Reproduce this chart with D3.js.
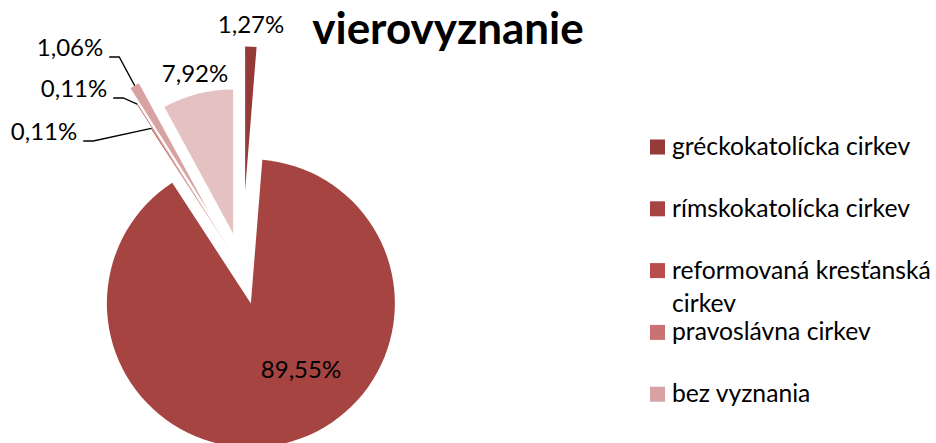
<!DOCTYPE html>
<html>
<head>
<meta charset="utf-8">
<script src="https://cdn.jsdelivr.net/npm/d3@7"></script>
<style>
  body { margin: 0; background: #fff; }
  text { font-family: Lato, "Open Sans", sans-serif; fill: #000; }
</style>
</head>
<body>
<div id="vis"></div>
<script>
// data
const categories = ['gréckokatolícka cirkev', 'rímskokatolícka cirkev', 'reformovaná kresťanská cirkev',
  'pravoslávna cirkev', 'bez vyznania', 'nezistené'];
const values = [1.27, 89.55, 0.11, 0.11, 1.06, 7.92];
const valueLabels = ['1,27%', '89,55%', '0,11%', '0,11%', '1,06%', '7,92%'];

// styling / layout
const colors = ['#943B3A', '#A54441', '#B94D4B', '#C87371', '#D8A2A2', '#E4C2C2'];
const explode = [78, 36, 23, 51, 68, 36];     // px each slice is pulled out
const labelPos = [[251, 33], [301, 378], [44, 140], [74, 97], [70, 56], [195, 82]];
const leader = [false, false, true, true, true, false];

const width = 936, height = 443;
const cx = 242, cy = 268.5, radius = 144;

const svg = d3.select('#vis')
  .append('svg')
  .attr('width', width)
  .attr('height', height);

const pie = d3.pie().sort(null).value(d => d);
const arc = d3.arc().innerRadius(0).outerRadius(radius);

const slices = pie(values).map((d, i) => {
  const mid = (d.startAngle + d.endAngle) / 2;
  return {
    ...d, i, mid,
    dx: explode[i] * Math.sin(mid),
    dy: -explode[i] * Math.cos(mid)
  };
});

const g = svg.append('g')
  .attr('transform', `translate(${cx},${cy})`);

g.selectAll('.slice')
  .data(slices)
  .join('path')
  .attr('class', 'slice')
  .attr('transform', d => `translate(${d.dx},${d.dy})`)
  .attr('d', arc)
  .style('fill', (d, i) => colors[i]);

// labels
const lbl = svg.selectAll('.lbl')
  .data(slices)
  .join('text')
  .attr('class', 'lbl')
  .attr('x', d => labelPos[d.i][0])
  .attr('y', d => labelPos[d.i][1])
  .attr('text-anchor', 'middle')
  .style('font-size', '24px')
  .text(d => valueLabels[d.i]);

// leader lines for the thin slices
lbl.each(function(d) {
  if (!leader[d.i]) return;
  const w = this.getComputedTextLength();
  const x0 = labelPos[d.i][0] + w / 2 + 6;
  const y0 = labelPos[d.i][1] + 1;
  const ex = cx + d.dx + radius * Math.sin(d.mid);
  const ey = cy + d.dy - radius * Math.cos(d.mid);
  svg.append('path')
    .attr('d', d3.line()([[x0, y0], [x0 + 10, y0], [ex, ey]]))
    .style('fill', 'none')
    .style('stroke', '#000')
    .style('stroke-width', 1.3);
});

// title
svg.append('text')
  .attr('x', 448)
  .attr('y', 44)
  .attr('text-anchor', 'middle')
  .style('font-size', '44px')
  .style('font-weight', 'bold')
  .text('vierovyznanie');

// legend, overflow past the bottom edge is cut off as in the original
const rowH = 61.8;
const legend = svg.selectAll('.legend')
  .data(categories.filter((c, i) => 147 + i * rowH + 10 < height))
  .join('g')
  .attr('class', 'legend')
  .attr('transform', (d, i) => `translate(650,${147 + i * rowH})`);

legend.append('rect')
  .attr('x', 0)
  .attr('y', -7.5)
  .attr('width', 15)
  .attr('height', 15)
  .style('fill', (d, i) => colors[i]);

legend.append('text')
  .attr('x', 22)
  .attr('y', 8)
  .style('font-size', '24.7px')
  .each(function(d) {
    // wrap long names like the original
    const t = d3.select(this);
    const parts = d === 'reformovaná kresťanská cirkev' ? ['reformovaná kresťanská', 'cirkev'] : [d];
    parts.forEach((p, k) => t.append('tspan').attr('x', 22).attr('dy', k ? 33 : 0).text(p));
  });
</script>
</body>
</html>
